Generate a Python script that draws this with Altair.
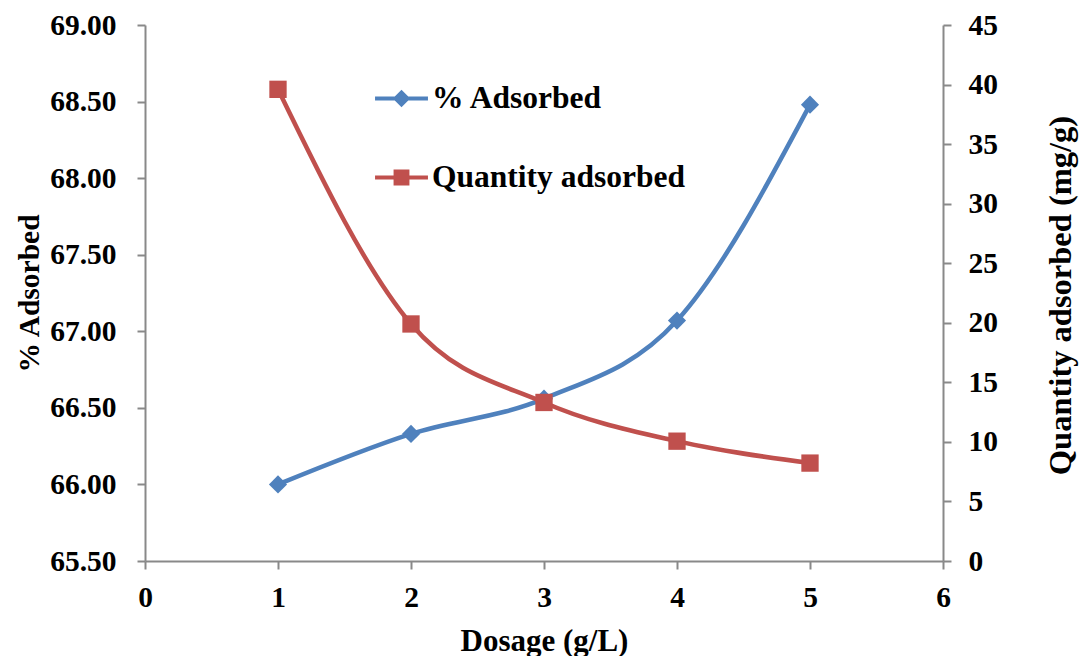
import altair as alt
import pandas as pd

# Adsorbent dosage study: removal percentage and uptake per gram
dosage = [1, 2, 3, 4, 5]
pct_adsorbed = [66.00, 66.33, 66.56, 67.07, 68.48]
qty_adsorbed = [39.60, 19.90, 13.31, 10.06, 8.22]

series_names = ["% Adsorbed", "Quantity adsorbed"]
series_colors = ["#4F81BD", "#C0504D"]

FONT = "'Liberation Serif', 'Times New Roman', serif"
AXIS_GRAY = "#898989"

df = pd.DataFrame({"dosage": dosage, "pct": pct_adsorbed, "qty": qty_adsorbed})

# legend glyphs: a short line stub with a diamond / square in the middle
stub_diamond = ("M -1 -0.08 L 1 -0.08 L 1 0.08 L -1 0.08 Z "
                "M 0 -0.33 L 0.33 0 L 0 0.33 L -0.33 0 Z")
stub_square = ("M -1 -0.08 L 1 -0.08 L 1 0.08 L -1 0.08 Z "
               "M -0.3 -0.3 L 0.3 -0.3 L 0.3 0.3 L -0.3 0.3 Z")

x_enc = alt.X(
    "dosage:Q",
    scale=alt.Scale(domain=[0, 6], nice=False),
    axis=alt.Axis(
        title="Dosage (g/L)", values=[0, 1, 2, 3, 4, 5, 6], format="d",
        titleX=399, titleY=80, titleBaseline="middle", titleFontSize=31,
        labelPadding=14,
    ),
)

y_left = alt.Y(
    "pct:Q",
    scale=alt.Scale(domain=[65.5, 69.0], nice=False, zero=False),
    axis=alt.Axis(
        title="% Adsorbed", orient="left", format=".2f",
        values=[65.5, 66.0, 66.5, 67.0, 67.5, 68.0, 68.5, 69.0],
        titleX=-116, titleY=268, titleAngle=270, titleBaseline="middle",
        titleFontSize=29.5, labelPadding=21,
    ),
)

y_right = alt.Y(
    "qty:Q",
    scale=alt.Scale(domain=[0, 45], nice=False),
    axis=alt.Axis(
        title="Quantity adsorbed (mg/g)", orient="right", format="d",
        values=list(range(0, 50, 5)),
        titleX=117, titleY=270, titleAngle=270, titleBaseline="middle",
        titleFontSize=32.5, labelPadding=17,
    ),
)

base = alt.Chart(df)

pct_line = base.mark_line(
    color=series_colors[0], strokeWidth=4.5, interpolate="monotone"
).encode(x=x_enc, y=y_left)
pct_pts = base.mark_point(
    shape="diamond", filled=True, size=330, opacity=1, color=series_colors[0]
).encode(x="dosage:Q", y="pct:Q")

legend_props = dict(
    title=None, orient="none", legendX=230, legendY=47,
    labelFont=FONT, labelFontWeight="bold", labelFontSize=31.5,
    labelColor="black", labelLimit=400, labelOffset=4,
    rowPadding=37, symbolSize=2800, symbolStrokeWidth=0,
    symbolOpacity=1,
)

# legend-only layer: no rows survive the filter, the scale domain is explicit
legend_src = pd.DataFrame({"series": series_names, "dosage": [0, 0], "pct": [65.5, 65.5]})
legend_layer = alt.Chart(legend_src).transform_filter("datum.dosage > 100").mark_point(
    filled=True, opacity=1, size=2800
).encode(
    x="dosage:Q",
    y="pct:Q",
    color=alt.Color(
        "series:N",
        scale=alt.Scale(domain=series_names, range=series_colors),
        legend=alt.Legend(**legend_props),
    ),
    shape=alt.Shape(
        "series:N",
        scale=alt.Scale(domain=series_names, range=[stub_diamond, stub_square]),
        legend=alt.Legend(**legend_props),
    ),
)

left_block = alt.layer(pct_line, pct_pts, legend_layer)

qty_line = base.mark_line(
    color=series_colors[1], strokeWidth=4.5, interpolate="monotone"
).encode(x="dosage:Q", y=y_right)
qty_pts = base.mark_square(
    size=300, opacity=1, color=series_colors[1]
).encode(x="dosage:Q", y="qty:Q")

right_block = alt.layer(qty_line, qty_pts)

chart = (
    alt.layer(left_block, right_block)
    .resolve_scale(y="independent")
    .properties(
        width=798,
        height=536,
        autosize=alt.AutoSizeParams(type="none"),
        padding={"left": 145, "top": 25, "right": 136, "bottom": 95},
        background="white",
    )
    .configure_view(stroke=None)
    .configure_axis(
        grid=False,
        domainColor=AXIS_GRAY, domainWidth=2,
        tickColor=AXIS_GRAY, tickWidth=2, tickSize=8,
        labelFont=FONT, labelFontWeight="bold", labelFontSize=29.5, labelColor="black",
        titleFont=FONT, titleFontWeight="bold", titleFontSize=29.5, titleColor="black",
        labelFlush=False, labelOverlap=False,
    )
)

chart.save("out.html", embed_options={"renderer": "svg", "actions": False})
